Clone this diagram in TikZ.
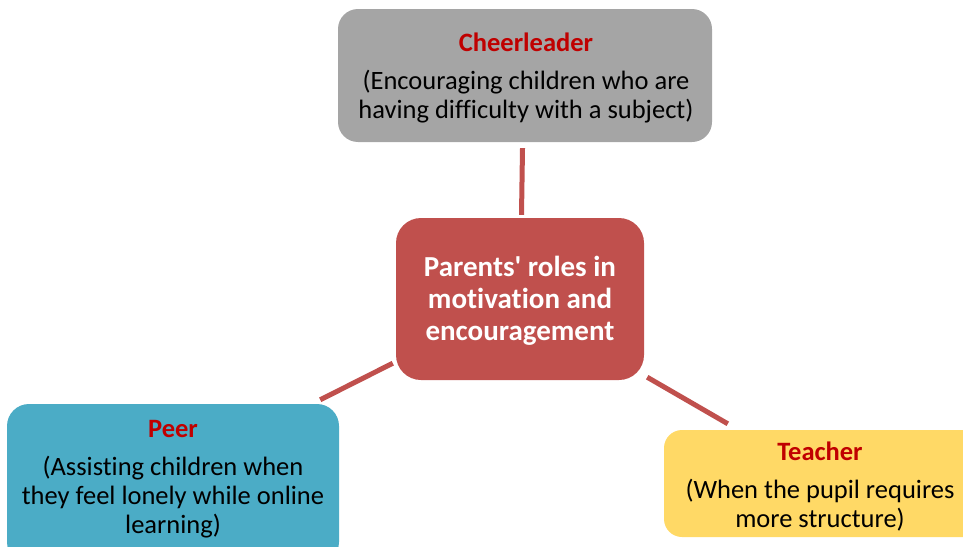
\documentclass[tikz,border=0pt]{standalone}
\usepackage{fontspec}
\setmainfont{Carlito}[Ligatures={NoCommon}]
\usetikzlibrary{calc}
\definecolor{boxgray}{HTML}{A5A5A5}
\definecolor{boxred}{HTML}{C0504D}
\definecolor{boxblue}{HTML}{4BACC6}
\definecolor{boxyellow}{HTML}{FFD966}
\definecolor{titlered}{HTML}{C00000}
\tikzset{
  rolebox/.style={rectangle, rounded corners=20pt, inner sep=0pt, draw=none},
  roletext/.style={align=center, inner sep=0pt, font=\fontsize{26.5}{29}\selectfont, text=black},
  centertext/.style={align=center, inner sep=0pt, font=\fontsize{29}{32}\selectfont\bfseries, text=white},
  conn/.style={draw=boxred, line width=5pt},
}
\newcommand{\roletitle}[1]{{\bfseries\color{titlered}#1}}
\begin{document}
\begin{tikzpicture}[x=1pt,y=-1pt]
\useasboundingbox (0,0) rectangle (963,546);
% boxes
\node[rolebox, fill=boxgray, minimum width=374pt, minimum height=133pt] (cheer) at (525,75.5) {};
\node[rolebox, fill=boxred, rounded corners=25pt, minimum width=248pt, minimum height=162pt] (center) at (520,299) {};
\node[rolebox, fill=boxblue, rounded corners=22pt, minimum width=332pt, minimum height=160pt] (peer) at (173,484) {};
\node[rolebox, fill=boxyellow, rounded corners=18pt, minimum width=320pt, minimum height=107pt] (teacher) at (824,483.5) {};
% texts (base anchor = baseline of the last line)
\node[roletext, anchor=base] (cheertxt) at (526,118) {\roletitle{Cheerleader}\\[9pt](Encouraging children who are\\having difficulty with a subject)};
\node[centertext, anchor=base] (centertxt) at (520,340) {Parents\textquotesingle{} roles in\\motivation and\\encouragement};
\node[roletext, anchor=base] (peertxt) at (173,533) {\roletitle{Peer}\\[9pt](Assisting children when\\they feel lonely while online\\learning)};
\node[roletext, anchor=base] (teachertxt) at (820,527) {\roletitle{Teacher}\\[9pt](When the pupil requires\\more structure)};
% connectors
\draw[conn] ($(cheer.south)+(-2.5,6)$) -- ($(center.north)+(1.5,-3)$);
\draw[conn] ($(center.south west)+(-3,-17)$) -- ($(peer.north east)+(-19,-4)$);
\draw[conn] ($(center.south east)+(3,-3)$) -- ($(teacher.north west)+(64,-6)$);
\end{tikzpicture}
\end{document}
